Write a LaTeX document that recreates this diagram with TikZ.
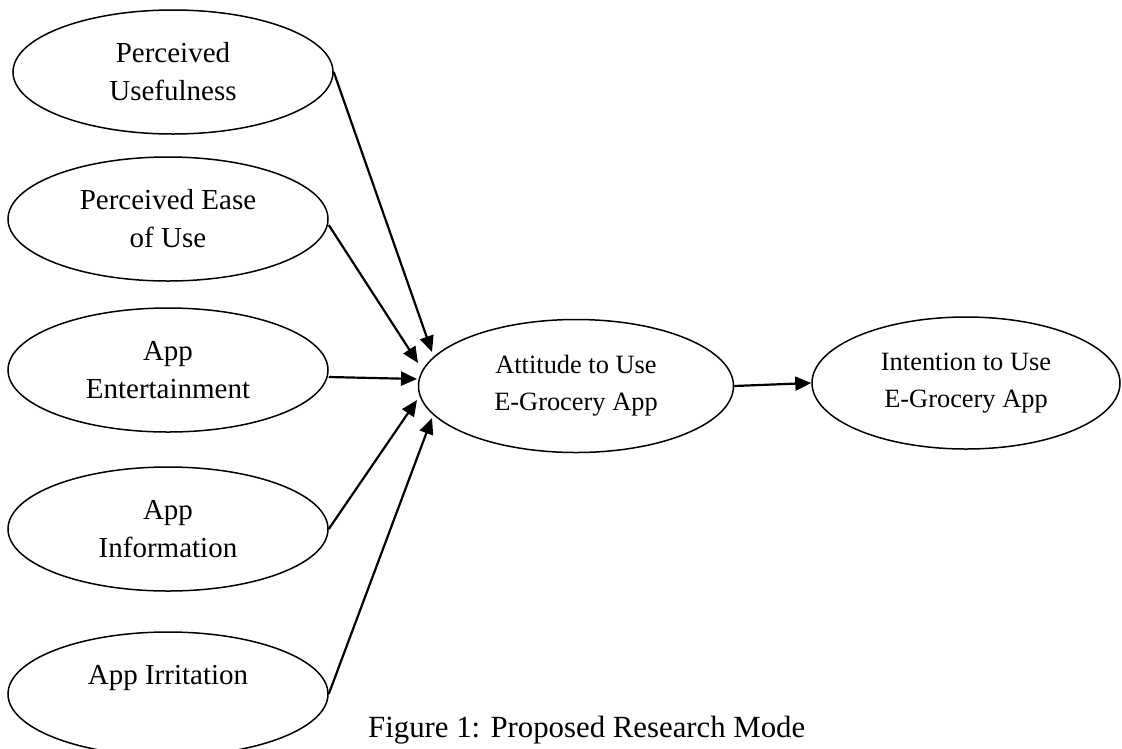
\documentclass[tikz,border=0pt]{standalone}
\usepackage{fontspec}
\setmainfont{Liberation Serif}
\usetikzlibrary{shapes.geometric,arrows.meta}
\begin{document}
\begin{tikzpicture}[x=1pt,y=-1pt,
  construct/.style={draw=black, line width=1.5pt, ellipse, inner sep=0pt, align=center,
     minimum width=320pt, minimum height=124pt, font=\fontsize{29}{38}\selectfont},
  outcome/.style={draw=black, line width=1.5pt, ellipse, inner sep=0pt, align=center,
     font=\fontsize{26.4}{37}\selectfont},
  link/.style={line width=2.2pt, -{Triangle[length=16pt,width=14pt]}}
]
\useasboundingbox (0,0) rectangle (1122,748);
\node[construct] (pu) at (173,72) {Perceived\\Usefulness};
\node[construct] (peou) at (168,219) {Perceived Ease\\of Use};
\node[construct] (ent) at (168,370) {App\\Entertainment};
\node[construct] (inf) at (168,529) {App\\Information};
\node[construct] (irr) at (168,694) {App Irritation\\\mbox{}};
\node[outcome, minimum width=315pt, minimum height=133pt] (att) at (576,386) {Attitude to Use\\E-Grocery App};
\node[outcome, minimum width=308pt, minimum height=132pt] (int) at (966,383) {Intention to Use\\E-Grocery App};
\coordinate (t1) at (432,352);
\coordinate (t2) at (418,363);
\coordinate (t3) at (417,379);
\coordinate (t4) at (417,400);
\coordinate (t5) at (432,418);
\draw[link] (pu.east) -- (t1);
\draw[link] (peou.east) ++(0,6) -- (t2);
\draw[link] (ent.east) ++(0,7) -- (t3);
\draw[link] (inf.east) -- (t4);
\draw[link] (irr.east) -- (t5);
\draw[link] (att.east) -- (int.west);
\node[anchor=base west, inner sep=0pt, font=\fontsize{30.8}{36}\selectfont] (cap) at (368,737) {Figure 1: Proposed Research Mode};
\end{tikzpicture}
\end{document}
